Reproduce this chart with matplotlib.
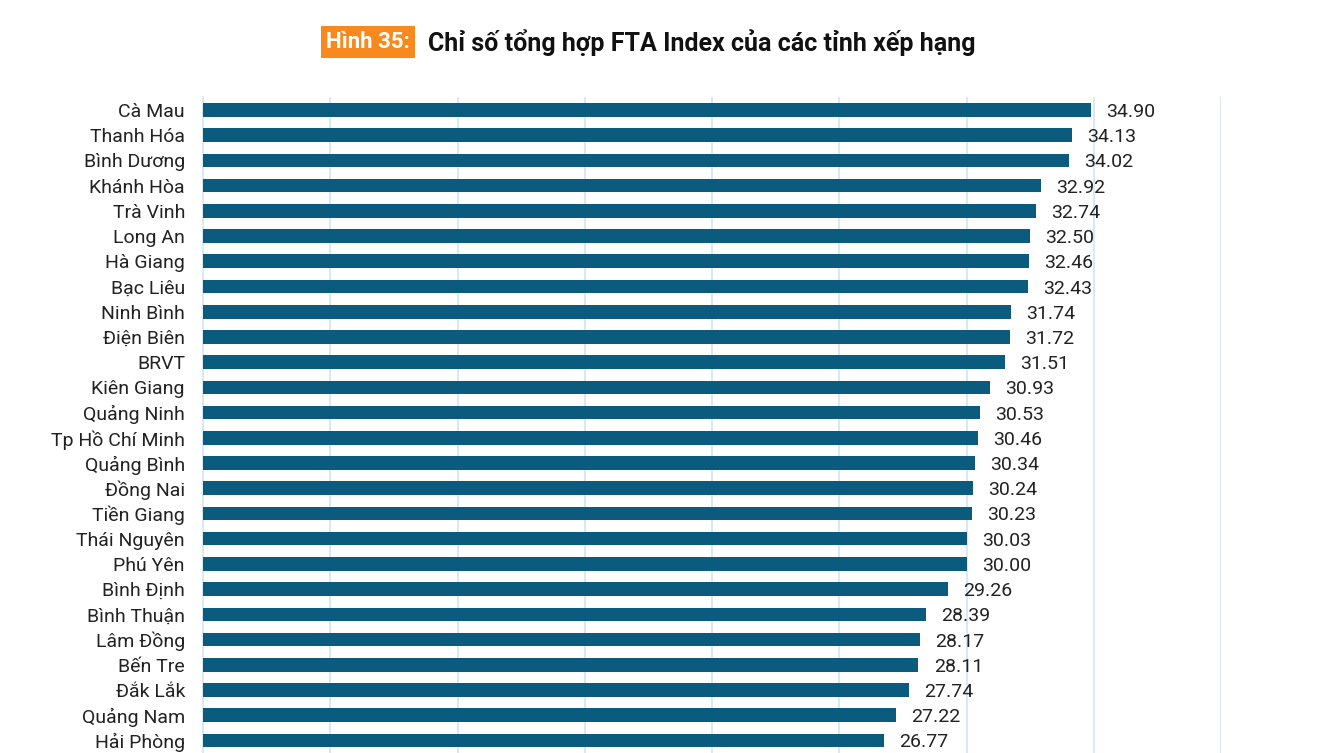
import matplotlib.pyplot as plt

provinces = ["Cà Mau", "Thanh Hóa", "Bình Dương", "Khánh Hòa", "Trà Vinh", "Long An",
             "Hà Giang", "Bạc Liêu", "Ninh Bình", "Điện Biên", "BRVT", "Kiên Giang",
             "Quảng Ninh", "Tp Hồ Chí Minh", "Quảng Bình", "Đồng Nai", "Tiền Giang",
             "Thái Nguyên", "Phú Yên", "Bình Định", "Bình Thuận", "Lâm Đồng", "Bến Tre",
             "Đắk Lắk", "Quảng Nam", "Hải Phòng"]
scores = [34.90, 34.13, 34.02, 32.92, 32.74, 32.50, 32.46, 32.43, 31.74, 31.72, 31.51,
          30.93, 30.53, 30.46, 30.34, 30.24, 30.23, 30.03, 30.00, 29.26, 28.39, 28.17,
          28.11, 27.74, 27.22, 26.77]
grid_ticks = [5, 10, 15, 20, 25, 30, 35, 40]

plt.rcParams["font.family"] = ["Roboto", "DejaVu Sans"]

bar_color = "#0b5b7f"
grid_color = "#cfe4f6"

fig = plt.figure(figsize=(13.38, 7.53), dpi=100)
ax = fig.add_axes([203 / 1338, 0.0, (1221 - 203) / 1338, 1 - 97.4 / 753])

y = list(range(len(provinces)))
ax.barh(y, scores, height=0.54, color=bar_color, zorder=3)
for yi, v in zip(y, scores):
    ax.text(v + 0.6, yi + 0.08, f"{v:.2f}", va="center", ha="left", fontsize=14, color="#222222")

ax.set_xlim(0, 40)
ax.set_ylim(len(provinces) - 0.5, -0.5)
ax.set_xticks(grid_ticks)
ax.set_xticklabels([])
ax.tick_params(axis="x", length=0)
ax.grid(axis="x", color=grid_color, linewidth=1.2, zorder=0)
ax.set_yticks(y)
ax.set_yticklabels(provinces, fontsize=14, color="#222222")
ax.tick_params(axis="y", length=0, pad=13)
for s in ["top", "right", "bottom"]:
    ax.spines[s].set_visible(False)
ax.spines["left"].set_color(grid_color)
ax.spines["left"].set_linewidth(1.2)

fig.text(326 / 1338, 0.944, "Hình 35:", fontsize=16, fontweight="bold", color="white",
         va="center", ha="left",
         bbox=dict(boxstyle="square,pad=0.22", facecolor="#f7891f", edgecolor="none"))
fig.text(428 / 1338, 0.944, "Chỉ số tổng hợp FTA Index của các tỉnh xếp hạng",
         fontsize=18, fontweight="bold", color="#111111", va="center", ha="left")

fig.savefig("out.png", dpi=100)
